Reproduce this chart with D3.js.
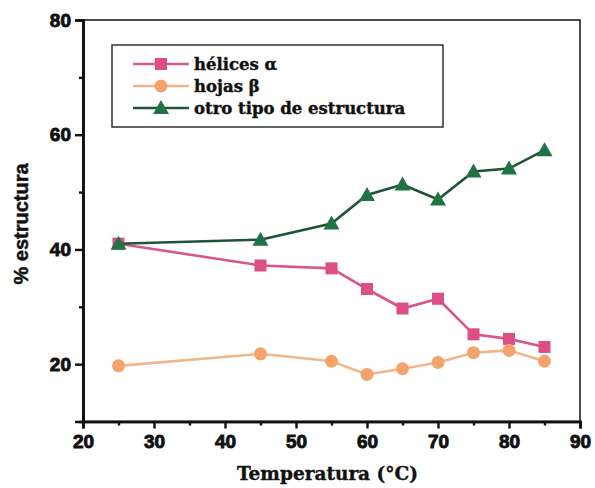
<!DOCTYPE html>
<html>
<head>
<meta charset="utf-8">
<script src="https://cdn.jsdelivr.net/npm/d3@7"></script>
<style>
  body { margin: 0; background: #fff; }
  svg { display: block; }
</style>
</head>
<body>
<div id="chart"></div>
<script>
// data
const temps = [25, 45, 55, 60, 65, 70, 75, 80, 85];
const helices = [41.0, 37.2, 36.7, 33.1, 29.7, 31.4, 25.2, 24.4, 23.0];
const hojas = [19.7, 21.8, 20.5, 18.2, 19.2, 20.3, 22.0, 22.4, 20.5];
const otro = [41.0, 41.7, 44.5, 49.5, 51.3, 48.7, 53.6, 54.1, 57.3];

const xTicks = [20, 30, 40, 50, 60, 70, 80, 90];
const yTicks = [20, 40, 60, 80];

const series = [
  { name: "hélices α", values: helices, line: "#d9558c", fill: "#dc4f86", shape: "square" },
  { name: "hojas β", values: hojas, line: "#f2b58a", fill: "#f5a36c", shape: "circle" },
  { name: "otro tipo de estructura", values: otro, line: "#1e5436", fill: "#1f7345", shape: "triangle" }
];

const width = 595, height = 488;
const plotL = 83, plotR = 580, plotT = 20, plotB = 421.5;

const svg = d3.select("#chart").append("svg")
  .attr("width", width)
  .attr("height", height);

const x = d3.scaleLinear().domain([20, 90]).range([plotL, plotR]);
const y = d3.scaleLinear().domain([10, 80]).range([plotB, plotT]);

// frame
svg.append("rect")
  .attr("x", plotL).attr("y", plotT)
  .attr("width", plotR - plotL).attr("height", plotB - plotT)
  .attr("fill", "none").attr("stroke", "#222").attr("stroke-width", 1.6);

const tickFont = "'Liberation Sans', Arial, sans-serif";

function heavy(sel, size) {
  sel.attr("fill", "#111")
    .attr("stroke", "#111")
    .attr("stroke-width", 0.9)
    .style("font-family", tickFont)
    .style("font-weight", "bold")
    .style("font-size", size);
}

// x axis
const xAxis = svg.append("g").attr("transform", `translate(0,${plotB})`);
xAxis.call(d3.axisBottom(x).tickValues(d3.range(25, 90, 10)).tickSize(4).tickFormat(""));
xAxis.call(g => g.append("g").call(d3.axisBottom(x).tickValues(xTicks).tickSize(7).tickPadding(6)));
xAxis.selectAll(".domain").attr("stroke", "#111").attr("stroke-width", 2.6);
xAxis.selectAll("line").attr("stroke", "#111").attr("stroke-width", 2.4);
heavy(xAxis.selectAll("text"), "19px");

// y axis
const yAxis = svg.append("g").attr("transform", `translate(${plotL},0)`);
yAxis.call(d3.axisLeft(y).tickValues([30, 50, 70]).tickSize(4).tickFormat(""));
yAxis.call(g => g.append("g").call(d3.axisLeft(y).tickValues(yTicks).tickSize(8).tickPadding(4)));
yAxis.selectAll(".domain").attr("stroke", "#111").attr("stroke-width", 2.6);
yAxis.selectAll("line").attr("stroke", "#111").attr("stroke-width", 2.4);
heavy(yAxis.selectAll("text"), "19px");

// axis titles
svg.append("text")
  .attr("x", (plotL + plotR) / 2 - 4)
  .attr("y", 480)
  .attr("text-anchor", "middle")
  .style("font-family", "'DejaVu Serif', serif")
  .style("font-weight", "bold")
  .style("font-size", "18.5px")
  .attr("fill", "#111")
  .attr("stroke", "#111")
  .attr("stroke-width", 0.4)
  .text("Temperatura (°C)");

svg.append("text")
  .attr("transform", "translate(28,224) rotate(-90)")
  .attr("text-anchor", "middle")
  .style("font-family", tickFont)
  .style("font-weight", "bold")
  .style("font-size", "20px")
  .attr("fill", "#111")
  .attr("stroke", "#111")
  .attr("stroke-width", 0.5)
  .text("% estructura");

// markers
function drawMarker(g, shape, fill, cx, cy) {
  if (shape === "square") {
    g.append("rect").attr("x", cx - 6).attr("y", cy - 6).attr("width", 12).attr("height", 12)
      .attr("fill", fill);
  } else if (shape === "circle") {
    g.append("circle").attr("cx", cx).attr("cy", cy).attr("r", 6.5).attr("fill", fill);
  } else {
    g.append("path").attr("d", `M${cx},${cy - 8}L${cx + 8},${cy + 6}L${cx - 8},${cy + 6}Z`)
      .attr("fill", fill);
  }
}

const line = d3.line().x((d, i) => x(temps[i])).y(d => y(d));

series.forEach(s => {
  const g = svg.append("g");
  g.append("path")
    .attr("d", line(s.values))
    .attr("fill", "none")
    .attr("stroke", s.line)
    .attr("stroke-width", 2.6);
  s.values.forEach((v, i) => drawMarker(g, s.shape, s.fill, x(temps[i]), y(v)));
});

// legend
const legend = svg.append("g");
legend.append("rect")
  .attr("x", 112).attr("y", 45).attr("width", 331).attr("height", 82)
  .attr("fill", "#fff").attr("stroke", "#222").attr("stroke-width", 1.4);

series.forEach((s, i) => {
  const ly = 64 + i * 22;
  legend.append("line")
    .attr("x1", 133).attr("x2", 189).attr("y1", ly).attr("y2", ly)
    .attr("stroke", s.line).attr("stroke-width", 2.6);
  drawMarker(legend, s.shape, s.fill, 161, ly);
  legend.append("text")
    .attr("x", 194).attr("y", ly + 5.5)
    .style("font-family", "'DejaVu Serif', serif")
    .style("font-weight", "bold")
    .style("font-size", "16.5px")
    .attr("fill", "#111")
    .attr("stroke", "#111")
    .attr("stroke-width", 0.4)
    .text(s.name);
});
</script>
</body>
</html>
